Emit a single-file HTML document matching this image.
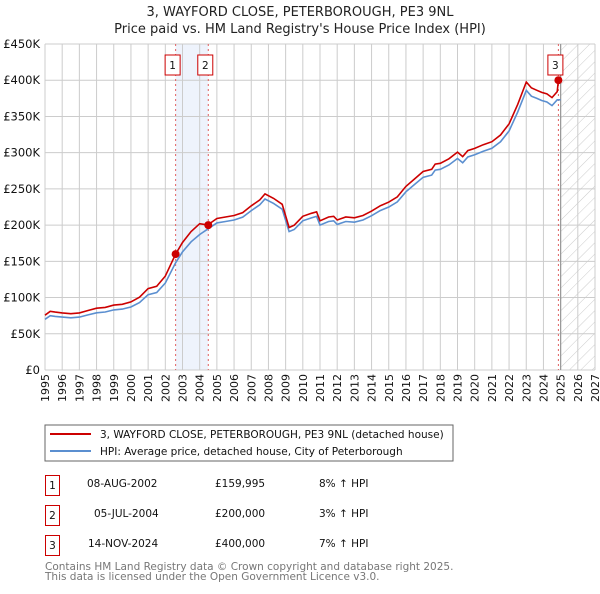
<!DOCTYPE html>
<html><head><meta charset="utf-8"><style>
body{margin:0;background:#fff;width:600px;height:590px;overflow:hidden;font-family:"DejaVu Sans","Liberation Sans",sans-serif;}
svg text{font-family:"DejaVu Sans","Liberation Sans",sans-serif;}
</style></head><body>
<svg width="600" height="590" xmlns="http://www.w3.org/2000/svg">
<defs><pattern id="hatch" width="8" height="8" patternUnits="userSpaceOnUse" patternTransform="rotate(45)"><line x1="0" y1="0" x2="0" y2="8" stroke="#ccc" stroke-width="1"/></pattern></defs>
<text x="300" y="16" text-anchor="middle" font-size="13" fill="#222">3, WAYFORD CLOSE, PETERBOROUGH, PE3 9NL</text>
<text x="300" y="33" text-anchor="middle" font-size="13" fill="#222">Price paid vs. HM Land Registry's House Price Index (HPI)</text>
<g id="plot"></g>
<rect x="45" y="425" width="408" height="36" fill="#fff" stroke="#666"/>
<line x1="50" y1="434" x2="91" y2="434" stroke="#cc0000" stroke-width="2"/>
<text x="100" y="438" font-size="10.5" fill="#111">3, WAYFORD CLOSE, PETERBOROUGH, PE3 9NL (detached house)</text>
<line x1="50" y1="451" x2="91" y2="451" stroke="#5b8fd0" stroke-width="2"/>
<text x="100" y="455" font-size="10.5" fill="#111">HPI: Average price, detached house, City of Peterborough</text>
<g font-size="10.5" fill="#111">
<rect x="45.5" y="475.5" width="14" height="20" fill="none" stroke="#cc0000"/><text x="52.5" y="489" text-anchor="middle">1</text>
<text x="87" y="487">08-AUG-2002</text><text x="215" y="487">£159,995</text><text x="319" y="487">8% ↑ HPI</text>
<rect x="45.5" y="505.5" width="14" height="20" fill="none" stroke="#cc0000"/><text x="52.5" y="519" text-anchor="middle">2</text>
<text x="94" y="517">05-JUL-2004</text><text x="215" y="517">£200,000</text><text x="319" y="517">3% ↑ HPI</text>
<rect x="45.5" y="535.5" width="14" height="20" fill="none" stroke="#cc0000"/><text x="52.5" y="549" text-anchor="middle">3</text>
<text x="88" y="547">14-NOV-2024</text><text x="215" y="547">£400,000</text><text x="319" y="547">7% ↑ HPI</text>
</g>
<text x="45" y="570" font-size="10.5" fill="#777">Contains HM Land Registry data © Crown copyright and database right 2025.</text>
<text x="45" y="580" font-size="10.5" fill="#777">This data is licensed under the Open Government Licence v3.0.</text>
</svg>
<script>
const yearTicks=[1995,1996,1997,1998,1999,2000,2001,2002,2003,2004,2005,2006,2007,2008,2009,2010,2011,2012,2013,2014,2015,2016,2017,2018,2019,2020,2021,2022,2023,2024,2025,2026,2027];
const valueTicks=[0,50,100,150,200,250,300,350,400,450];
const valueTickLabels=["£0","£50K","£100K","£150K","£200K","£250K","£300K","£350K","£400K","£450K"];
const hpiDates=[1995.0,1995.3,1995.6,1996.0,1996.5,1997.0,1997.5,1998.0,1998.5,1999.0,1999.5,2000.0,2000.5,2001.0,2001.5,2002.0,2002.6,2003.0,2003.5,2004.0,2004.5,2005.0,2005.5,2006.0,2006.5,2007.0,2007.5,2007.8,2008.3,2008.8,2009.2,2009.5,2010.0,2010.5,2010.8,2011.0,2011.5,2011.8,2012.0,2012.5,2013.0,2013.5,2014.0,2014.5,2015.0,2015.5,2016.0,2016.5,2017.0,2017.5,2017.7,2018.0,2018.5,2019.0,2019.3,2019.6,2020.0,2020.5,2021.0,2021.5,2022.0,2022.5,2023.0,2023.3,2023.6,2023.9,2024.2,2024.5,2024.8,2025.0];
const hpiValues=[70,75,74,73,72,73,76,79,80,83,84,87,93,104,107,120,148,163,177,187,195,203,205,207,211,220,228,236,230,222,191,194,206,210,212,200,205,206,201,205,204,207,213,220,225,232,246,256,266,269,276,277,283,292,286,294,297,302,306,315,330,356,386,378,375,372,370,365,373,373];
const saleDates=[2002.6,2004.5,2024.87];
const salePrices=[159.995,200,400];
const saleLabels=["1","2","3"];
const saleRatios=[1.08,1.03,1.07];

const NS="http://www.w3.org/2000/svg";
const X0=45,X1=595,Y0=370,Y1=44;
const xs=t=>X0+(t-1995)/(2027-1995)*(X1-X0);
const ys=v=>Y0-v/450*(Y0-Y1);
const plot=document.getElementById('plot');
function mk(tag,attrs,parent){const e=document.createElementNS(NS,tag);for(const k in attrs)e.setAttribute(k,attrs[k]);(parent||plot).appendChild(e);return e;}

const shade=mk('rect',{x:xs(saleDates[0]),y:Y1,width:xs(saleDates[1])-xs(saleDates[0]),height:Y0-Y1,fill:'#eef3fc'});


const hatch=mk('rect',{x:xs(2025),y:Y1,width:X1-xs(2025),height:Y0-Y1,fill:'url(#hatch)'});



yearTicks.forEach(y=>{
 const l=mk('line',{x1:xs(y),x2:xs(y),y1:Y1,y2:Y0,stroke:'#ccc','stroke-width':1});
 
 
 const t=mk('text',{x:0,y:0,'font-size':11,fill:'#111','text-anchor':'end',transform:`translate(${xs(y)+4},${Y0+4}) rotate(-90)`});
 t.textContent=y;
 
 
});
valueTicks.forEach((v,i)=>{
 const l=mk('line',{x1:X0,x2:X1,y1:ys(v),y2:ys(v),stroke:'#ccc','stroke-width':1});
 
 
 const t=mk('text',{x:X0-5,y:ys(v)+4,'font-size':11.5,fill:'#111','text-anchor':'end'});
 t.textContent=valueTickLabels[i];
 
 
});
const nowLine=mk('line',{x1:xs(2025),x2:xs(2025),y1:Y1,y2:Y0,stroke:'#999','stroke-width':1.2});



saleDates.forEach((d,i)=>{
 const l=mk('line',{x1:xs(d),x2:xs(d),y1:Y1,y2:Y0,stroke:'#e06060','stroke-width':1,'stroke-dasharray':'2,3'});
 
 
});

const hp=hpiDates.map((d,i)=>xs(d).toFixed(1)+','+ys(hpiValues[i]).toFixed(1)).join(' ');
const hl=mk('polyline',{points:hp,fill:'none',stroke:'#5b8fd0','stroke-width':1.6});



function ratioAt(t){let r=saleRatios[0];saleDates.forEach((d,i)=>{if(t>=d)r=saleRatios[i];});return r;}
const pts=[];
hpiDates.forEach((d,i)=>{
 if(d>=saleDates[saleDates.length-1])return;
 saleDates.forEach((sd,j)=>{if(sd<=d&&(i===0||hpiDates[i-1]<sd))pts.push([sd,salePrices[j]]);});
 pts.push([d,hpiValues[i]*ratioAt(d)]);
});
pts.push([saleDates[2],salePrices[2]]);
pts.sort((a,b)=>a[0]-b[0]);
const pl=mk('polyline',{points:pts.map(p=>xs(p[0]).toFixed(1)+','+ys(p[1]).toFixed(1)).join(' '),fill:'none',stroke:'#cc0000','stroke-width':1.6});



saleDates.forEach((d,i)=>{
 const c=mk('circle',{cx:xs(d),cy:ys(salePrices[i]),r:4,fill:'#cc0000'});
 
 
 const bx=xs(d)-3;
 const r=mk('rect',{x:bx-7.5,y:55,width:15,height:20,fill:'#fff',stroke:'#cc0000'});
 
 
 const t=mk('text',{x:bx,y:69,'font-size':10.5,fill:'#111','text-anchor':'middle'});
 t.textContent=saleLabels[i];
 
 
});
</script>
</body></html>
